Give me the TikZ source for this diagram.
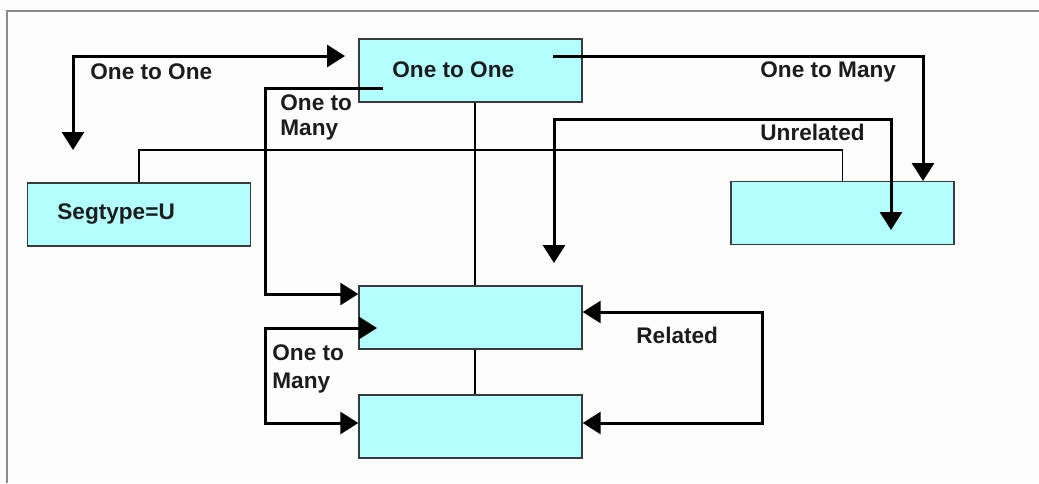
\documentclass[tikz,border=0pt]{standalone}
\usepackage{fontspec}
\setmainfont{Liberation Sans}
\usepackage{tikz}
\usetikzlibrary{positioning, arrows.meta, calc}
\definecolor{boxfill}{HTML}{B3FFFF}
\definecolor{boxline}{HTML}{3A3A3A}
\definecolor{ink}{HTML}{1C1C1C}
\definecolor{frame}{HTML}{8C8C8C}
\definecolor{paper}{HTML}{FCFDFC}

\begin{document}
\begin{tikzpicture}[
  x=0.5pt, y=-0.5pt,
  every node/.style={font=\fontsize{11.3}{12.5}\selectfont\bfseries, text=ink},
  seg/.style={
    draw=boxline, fill=boxfill, line width=0.7pt, inner sep=0pt,
    minimum width=111.5pt, minimum height=31.5pt
  },
  lbl/.style={anchor=west, inner sep=0pt, align=left},
  link/.style={draw=black, line width=1.5pt},
  tip/.style={-{Triangle[length=9pt, width=11pt]}},
  tips/.style={{Triangle[length=9pt, width=11pt]}-{Triangle[length=9pt, width=11pt]}},
  tie/.style={draw=black, line width=0.7pt}
]
  \useasboundingbox (0,0) rectangle (1039,483);
  \fill[paper] (0,0) rectangle (1039,483);
  \draw[frame, line width=1pt] (7,483) -- (7,11) -- (1039,11);

  % segments
  \node[seg] (root) at (470.5,70.5) {};
  \node[seg] (segu) at (139,214.5) {};
  \node[seg] (side) at (842.5,213) {};
  \node[seg] (mid)  at (470.5,317.5) {};
  \node[seg] (low)  at (470.5,426.5) {};

  % texts
  \node[lbl] (tRoot) at (392,70) {One to One};
  \node[lbl] (tSeg) at (57,214) {Segtype=U};
  \node[lbl] (tOne) at (90,72) {One to One};
  \node[lbl] (tMany1) at (280,117) {One to\\Many};
  \node[lbl] (tMany2) at (760,72) {One to Many};
  \node[lbl] (tUnrel) at (760,132) {Unrelated};
  \node[lbl] (tRel) at (636,335) {Related};
  \node[lbl, font=\fontsize{11.3}{14}\selectfont\bfseries] (tMany3) at (272,369) {One to\\Many};

  % thin hierarchy lines
  \coordinate (bus) at (475,150);
  \draw[tie] (segu.north) |- (bus) -| (side.north);
  \draw[tie] ([xshift=2.25pt]root.south) -- ([xshift=2.25pt]mid.north);
  \draw[tie] ([xshift=2.25pt]mid.south) -- ([xshift=2.25pt]low.north);

  % relationship arrows
  \coordinate (c1) at (73,56);
  \coordinate (c1r) at (345,56);
  \coordinate (c1d) at (73,150);
  \draw[link, tips] (c1r) -- (c1) -- (c1d);

  \coordinate (a2) at (383,88);
  \coordinate (k2) at (265,294);
  \draw[link, tip] (a2) -| (k2) -- (k2 -| mid.west);

  \coordinate (a3) at (553,56);
  \coordinate (t3) at (923,181);
  \draw[link, tip] (a3) -| (t3);

  \coordinate (uL) at (554,263);
  \coordinate (uC) at (891,119);
  \coordinate (uR) at (891,230);
  \draw[link, tips] (uL) |- (uC) -- (uR);

  \coordinate (r1) at (762,312);
  \coordinate (r2) at (762,423);
  \draw[link, tips] (r1 -| mid.east) -- (r1) -- (r2) -- (r2 -| low.east);

  \coordinate (m1) at (377,328);
  \coordinate (m2) at (265,423);
  \draw[link, tips] (m1) -| (m2) -- (m2 -| low.west);
\end{tikzpicture}
\end{document}
